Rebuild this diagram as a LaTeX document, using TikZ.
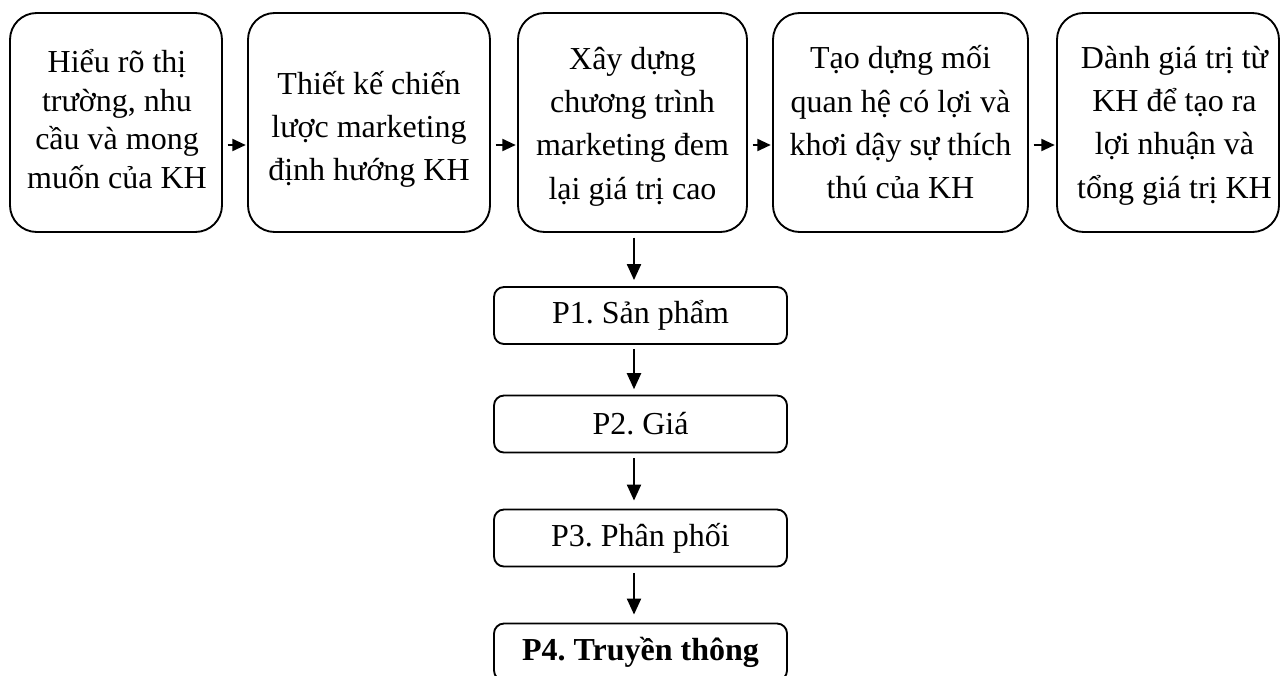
\documentclass[tikz,border=0pt]{standalone}
\usepackage{fontspec}
\setmainfont{Liberation Serif}
\usetikzlibrary{arrows.meta}
\frenchspacing
\begin{document}
\begin{tikzpicture}[x=0.75pt,y=-0.75pt,
  stagebox/.style={draw,line width=1.4pt,rounded corners=20pt,inner sep=0pt,
    minimum height=164.25pt},
  stagetext/.style={inner sep=0pt,align=center,font=\fontsize{24}{32.5}\selectfont},
  mix/.style={draw,line width=1.4pt,rounded corners=7.5pt,inner sep=0pt,
    minimum width=219.75pt,minimum height=42.75pt,font=\fontsize{24}{28}\selectfont},
  flow/.style={line width=1.4pt,-{Triangle[length=10pt,width=9pt]},
    shorten <=3.5pt,shorten >=1pt},
  down/.style={line width=1.6pt,-{Triangle[length=12pt,width=10.5pt]}}]
\useasboundingbox (0,0) rectangle (1282,675);

% the five stages of the process: frames, then their texts
\node[stagebox,minimum width=159pt]    (b1) at (116,122.5)   {};
\node[stagebox,minimum width=181.5pt]  (b2) at (369,122.5)   {};
\node[stagebox,minimum width=171.75pt] (b3) at (632.5,122.5) {};
\node[stagebox,minimum width=191.25pt] (b4) at (900.5,122.5) {};
\node[stagebox,minimum width=166.5pt]  (b5) at (1168,122.5)  {};

\node[stagetext,font=\fontsize{24}{29}\selectfont] (b1t) at (117,119)
  {Hiểu rõ thị\\trường, nhu\\cầu và mong\\muốn của KH};
\node[stagetext] (b2t) at (369,129.5)
  {Thiết kế chiến\\lược marketing\\định hướng KH};
\node[stagetext] (b3t) at (632.5,126.5)
  {Xây dựng\\chương trình\\marketing đem\\lại giá trị cao};
\node[stagetext] (b4t) at (900.5,122.5)
  {Tạo dựng mối\\quan hệ có lợi và\\khơi dậy sự thích\\thú của KH};
\node[stagetext] (b5t) at (1174.5,125.5)
  {Dành giá trị từ\\KH để tạo ra\\lợi nhuận và\\tổng giá trị KH};

% the marketing mix
\node[mix] (p1) at (640.5,315.5) {P1. Sản phẩm};
\node[mix] (p2) at (640.5,424)   {P2. Giá};
\node[mix] (p3) at (640.5,538)   {P3. Phân phối};
\node[mix] (p4) at (640.5,652)   {\bfseries P4. Truyền thông};

% guide lines for the connectors
\coordinate (lane) at (0,145);
\coordinate (axis) at (634,0);

\draw[flow] (b1.east |- lane) -- (b2.west |- lane);
\draw[flow] (b2.east |- lane) -- (b3.west |- lane);
\draw[flow] (b3.east |- lane) -- (b4.west |- lane);
\draw[flow] (b4.east |- lane) -- (b5.west |- lane);

\draw[down,shorten <=3.5pt,shorten >=4.5pt] (b3.south -| axis) -- (p1.north -| axis);
\draw[down,shorten <=3pt,shorten >=4pt]   (p1.south -| axis) -- (p2.north -| axis);
\draw[down,shorten <=3.5pt,shorten >=6pt] (p2.south -| axis) -- (p3.north -| axis);
\draw[down,shorten <=4pt,shorten >=6pt]   (p3.south -| axis) -- (p4.north -| axis);
\end{tikzpicture}
\end{document}
